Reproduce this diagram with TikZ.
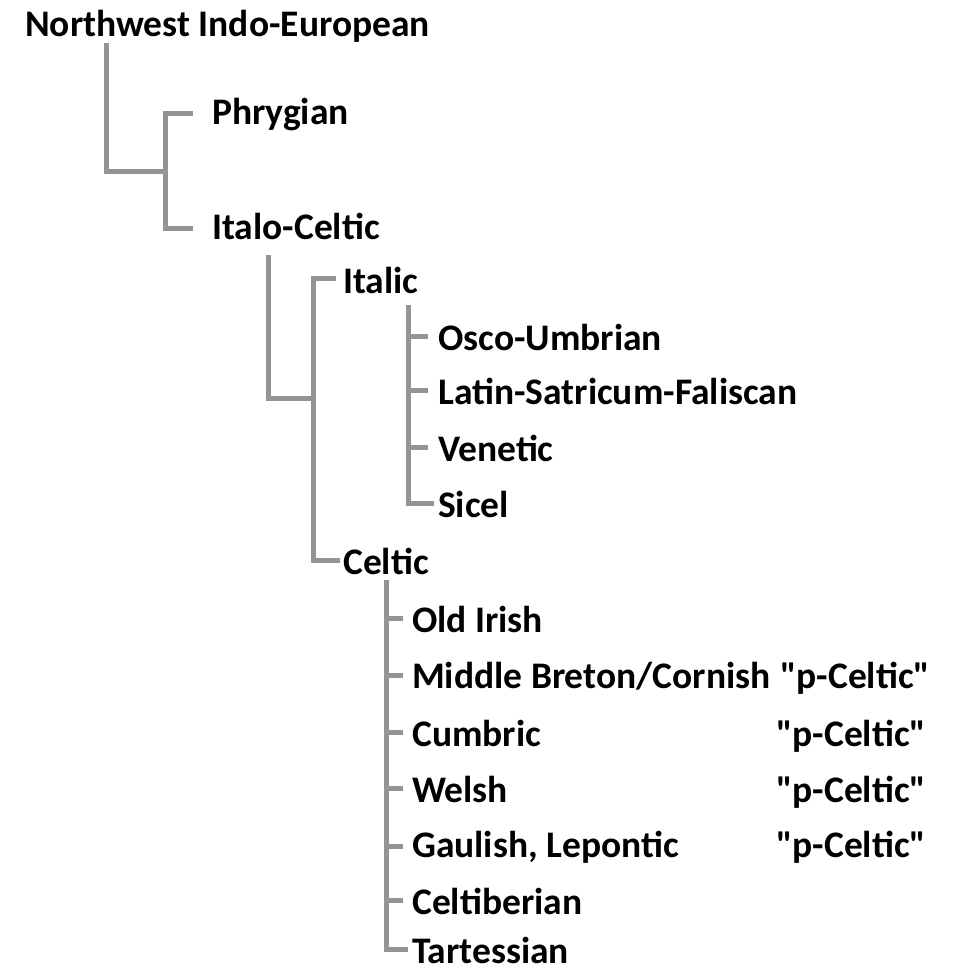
\documentclass[tikz,border=0pt]{standalone}
\usepackage{fontspec}
\setmainfont{Carlito}[Ligatures=TeXOff]
\begin{document}
\begin{tikzpicture}[x=1pt,y=-1pt,
  lab/.style={anchor=base west,inner sep=0pt,font=\fontsize{37.5}{40}\selectfont\bfseries,text=black},
  conn/.style={draw=black!42,line width=5pt,line cap=butt}]
\useasboundingbox (0,0) rectangle (953,969);
% labels (baseline = visual centre + 12)
\node[lab] (nwie) at (25,36) {Northwest Indo-European};
\node[lab] (phr) at (212,124) {Phrygian};
\node[lab] (ic) at (212,239) {Italo-Celtic};
\node[lab] (ita) at (343,293) {Italic};
\node[lab] (ou) at (438,350) {Osco-Umbrian};
\node[lab] (lsf) at (438,404) {Latin-Satricum-Faliscan};
\node[lab] (ven) at (438,461) {Venetic};
\node[lab] (sic) at (438,517) {Sicel};
\node[lab] (cel) at (343,574) {Celtic};
\node[lab] (oi) at (412,632) {Old Irish};
\node[lab] (mb) at (412,688) {Middle Breton/Cornish};
\node[lab] (cum) at (412,746) {Cumbric};
\node[lab] (wel) at (412,802) {Welsh};
\node[lab] (gau) at (412,857) {Gaulish, Lepontic};
\node[lab] (cib) at (412,914) {Celtiberian};
\node[lab] (tar) at (412,963) {Tartessian};
\node[lab] (pmb) at (780,688) {"p-Celtic"};
\node[lab] (pcum) at (776,746) {"p-Celtic"};
\node[lab] (pwel) at (776,802) {"p-Celtic"};
\node[lab] (pgau) at (776,857) {"p-Celtic"};
% junction coordinates
\coordinate (r0) at (106,43);
\coordinate (r1) at (165,171);
\coordinate (a0) at (193,113);
\coordinate (a1) at (193,228);
\coordinate (i0) at (268,255);
\coordinate (i1) at (313,398);
\coordinate (b0) at (336,278);
\coordinate (b1) at (340,560);
\coordinate (t0) at (408,305);
\coordinate (tx) at (428,0);
\coordinate (c0) at (386,580);
\coordinate (cx) at (403,0);
% connectors
\draw[conn] (r0) |- (r1);
\draw[conn] (a0) -| (r1) |- (a1);
\draw[conn] (i0) |- (i1);
\draw[conn] (b0) -| (i1) |- (b1);
\draw[conn] (t0) |- ([xshift=-4pt]sic.west);
\foreach \n in {ou,lsf,ven}{\draw[conn] (t0 |- \n.west) -- (tx |- \n.west);}
\draw[conn] (c0) |- ([xshift=-4pt]tar.west);
\foreach \n in {oi,mb,cum,wel,gau,cib}{\draw[conn] (c0 |- \n.west) -- (cx |- \n.west);}
\end{tikzpicture}
\end{document}
